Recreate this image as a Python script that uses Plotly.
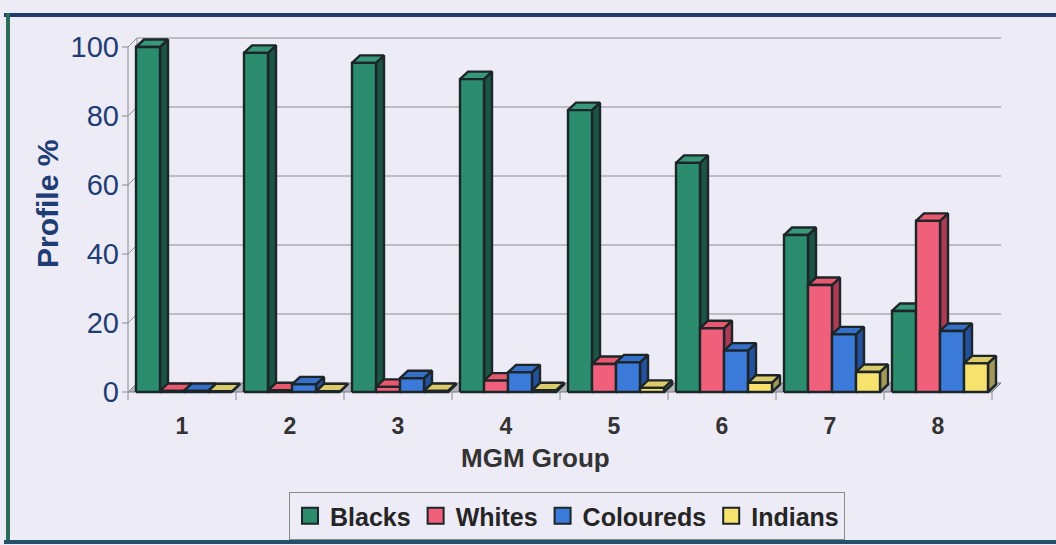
import plotly.graph_objects as go

# ---- data -------------------------------------------------------------
groups = [1, 2, 3, 4, 5, 6, 7, 8]
group_labels = ["1", "2", "3", "4", "5", "6", "7", "8"]
blacks = [100, 98.3, 95.4, 90.7, 81.7, 66.4, 45.5, 23.5]
whites = [0.3, 0.5, 1.5, 3.3, 8.1, 18.5, 31.0, 49.6]
coloureds = [0.3, 2.2, 4.0, 5.7, 8.6, 12.0, 16.7, 17.7]
indians = [0.2, 0.2, 0.3, 0.5, 1.2, 2.7, 5.8, 8.3]
y_ticks = [0, 20, 40, 60, 80, 100]

series = [
    # name, values, front, side, top
    ("Blacks", blacks, "#2C8C6E", "#1B5645", "#389879"),
    ("Whites", whites, "#F0607A", "#AE3B53", "#E8586F"),
    ("Coloureds", coloureds, "#3B7AD8", "#24519E", "#356FC8"),
    ("Indians", indians, "#F8E26E", "#A29858", "#DCCB6A"),
]

# ---- geometry (pixels) --------------------------------------------------
W, H = 1056, 545
L, R, T, B = 120, 1040, 25, 405          # plot area edges
PX_X = 108.0                              # pixels per category
PX_Y = 3.45                               # pixels per percent
X_FRONT = 128                             # pixel of category edge 0.5
Y_ZERO = 392                              # pixel of value 0

x_range = [0.5 - (X_FRONT - L) / PX_X, 0.5 + (R - X_FRONT) / PX_X]
y_range = [-(B - Y_ZERO) / PX_Y, (Y_ZERO - T) / PX_Y]


def ux(px):
    return px / PX_X


def uy(px):
    return px / PX_Y


def paper_x(px):
    return (px - L) / (R - L)


def paper_y(py):
    return (B - py) / (B - T)


BAR_W = ux(24)           # front face width of one bar
BAR_OFF = ux(-46)        # left edge of first bar relative to category centre
DEP_X, DEP_Y = ux(8), uy(7.5)     # bar depth
WALL_X, WALL_Y = ux(9), uy(9)     # wall depth
X_LEFT, X_RIGHT = 0.5, len(groups) + 0.5

EDGE = "#1C2629"
GRID = "#8E8E96"

fig = go.Figure()

# floor
fig.add_trace(go.Scatter(
    x=[X_LEFT, X_RIGHT, X_RIGHT + WALL_X, X_LEFT + WALL_X, X_LEFT],
    y=[0, 0, WALL_Y, WALL_Y, 0],
    mode="lines", fill="toself", fillcolor="#B4B4BC",
    line=dict(color="#7A7A84", width=1), hoverinfo="skip", showlegend=False))

# back-wall gridlines, left-wall diagonals and wall edge
gx, gy = [], []
for v in y_ticks[1:]:
    gx += [X_LEFT + WALL_X, X_RIGHT + WALL_X, None]
    gy += [v + WALL_Y, v + WALL_Y, None]
for v in y_ticks:
    gx += [X_LEFT, X_LEFT + WALL_X, None]
    gy += [v, v + WALL_Y, None]
gx += [X_LEFT + WALL_X, X_LEFT + WALL_X]
gy += [WALL_Y, y_ticks[-1] + WALL_Y]
fig.add_trace(go.Scatter(x=gx, y=gy, mode="lines",
                         line=dict(color=GRID, width=1),
                         hoverinfo="skip", showlegend=False))

# front value axis with tick marks
ax, ay = [X_LEFT, X_LEFT, None], [0, y_ticks[-1], None]
for v in y_ticks:
    ax += [X_LEFT - ux(6), X_LEFT, None]
    ay += [v, v, None]
for k in range(len(groups) + 1):
    ax += [X_LEFT + k, X_LEFT + k, None]
    ay += [0, -uy(8), None]
fig.add_trace(go.Scatter(x=ax, y=ay, mode="lines",
                         line=dict(color="#8A8A92", width=1),
                         hoverinfo="skip", showlegend=False))

# bars: side, top and front faces, drawn left to right
for i, (name, vals, c_front, c_side, c_top) in enumerate(series):
    sx, sy, tx, ty, fx, fy = [], [], [], [], [], []
    for g, v in zip(groups, vals):
        x0 = g + BAR_OFF + i * BAR_W
        x1 = x0 + BAR_W
        sx += [x1, x1 + DEP_X, x1 + DEP_X, x1, x1, None]
        sy += [0, DEP_Y, v + DEP_Y, v, 0, None]
        tx += [x0, x1, x1 + DEP_X, x0 + DEP_X, x0, None]
        ty += [v, v, v + DEP_Y, v + DEP_Y, v, None]
        fx += [x0, x1, x1, x0, x0, None]
        fy += [0, 0, v, v, 0, None]
    for xs, ys, col in ((sx, sy, c_side), (tx, ty, c_top), (fx, fy, c_front)):
        fig.add_trace(go.Scatter(
            x=xs, y=ys, mode="lines", fill="toself", fillcolor=col,
            line=dict(color=EDGE, width=2.4), name=name,
            hoverinfo="skip", showlegend=False))

# legend entries
for name, vals, c_front, _, _ in series:
    fig.add_trace(go.Scatter(
        x=[None], y=[None], mode="markers", name=name,
        marker=dict(symbol="square", size=16, color=c_front,
                    line=dict(color=EDGE, width=2))))

BG = "#EDEBF5"
FONT = "Arial, Liberation Sans, sans-serif"

fig.update_layout(
    width=W, height=H,
    margin=dict(l=L, r=W - R, t=T, b=H - B, autoexpand=False),
    paper_bgcolor=BG, plot_bgcolor=BG,
    font=dict(family=FONT),
    showlegend=True,
    legend=dict(
        orientation="h", xanchor="center", x=paper_x(567),
        yanchor="top", y=paper_y(492),
        font=dict(size=25, color="#252525", weight="bold", family=FONT),
        bgcolor="rgba(0,0,0,0)", bordercolor="#8A8A8A", borderwidth=1,
        itemclick=False, tracegroupgap=0),
    xaxis=dict(
        range=x_range, tickmode="array", tickvals=groups, ticktext=group_labels,
        showgrid=False, zeroline=False, showline=False, ticks="",
        ticklabelstandoff=5,
        tickfont=dict(size=23, color="#333333", weight="bold", family=FONT)),
    yaxis=dict(
        range=y_range, tickmode="array", tickvals=y_ticks,
        showgrid=False, zeroline=False, showline=False, ticks="",
        tickfont=dict(size=29, color="#1F3D75", family=FONT)),
    annotations=[
        dict(text="MGM Group", xref="paper", yref="paper",
             x=paper_x(535), y=paper_y(458), xanchor="center", yanchor="middle",
             showarrow=False,
             font=dict(size=26, color="#333333", weight="bold", family=FONT)),
        dict(text="Profile %", xref="paper", yref="paper", textangle=-90,
             x=paper_x(47), y=paper_y(204), xanchor="center", yanchor="middle",
             showarrow=False,
             font=dict(size=30, color="#1F3D75", weight="bold", family=FONT)),
    ],
    shapes=[
        dict(type="line", xref="paper", yref="paper",
             x0=paper_x(4), x1=paper_x(1060), y0=paper_y(15), y1=paper_y(15),
             line=dict(color="#1E3B6B", width=4)),
        dict(type="line", xref="paper", yref="paper",
             x0=paper_x(8), x1=paper_x(8), y0=paper_y(13), y1=paper_y(543),
             line=dict(color="#2A6B5A", width=4)),
        dict(type="line", xref="paper", yref="paper",
             x0=paper_x(4), x1=paper_x(1060), y0=paper_y(542), y1=paper_y(542),
             line=dict(color="#24506A", width=4)),
    ],
)

fig.write_html("out.html")
